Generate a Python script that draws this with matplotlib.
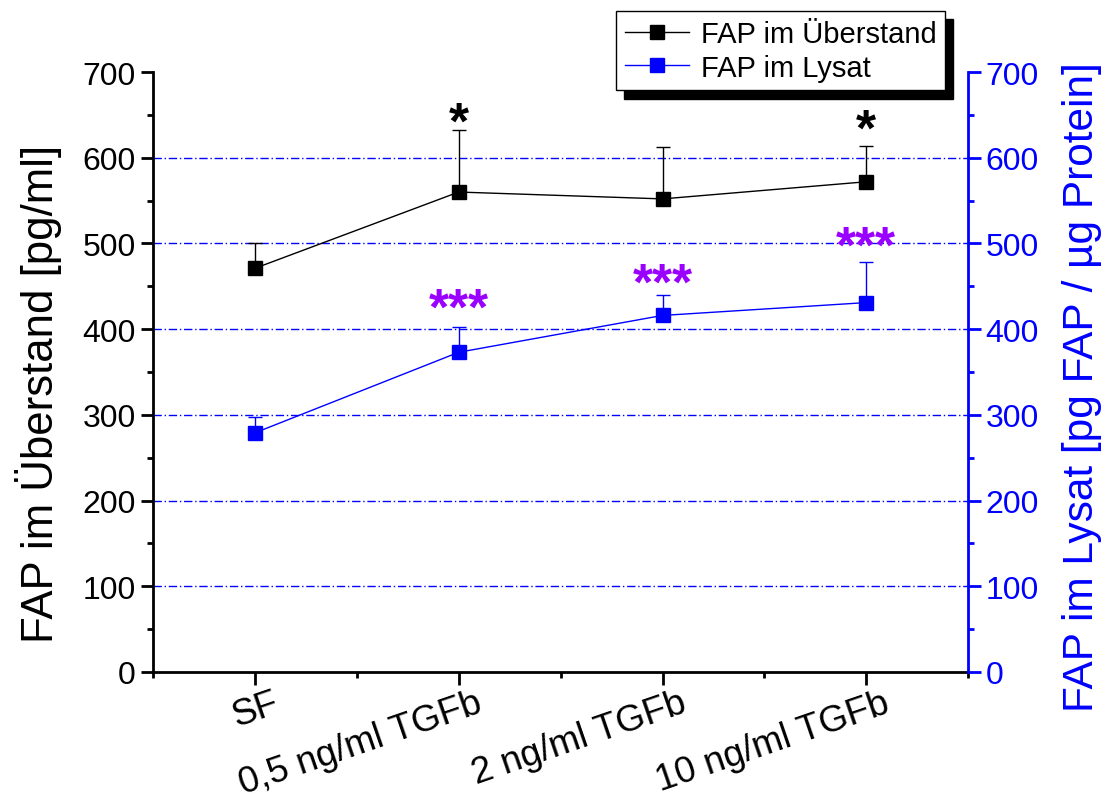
import matplotlib
matplotlib.use("Agg")
import matplotlib.pyplot as plt
from matplotlib.ticker import MultipleLocator

plt.rcParams['font.family'] = ['Liberation Sans', 'DejaVu Sans']

categories = ["SF", "0,5 ng/ml TGFb", "2 ng/ml TGFb", "10 ng/ml TGFb"]
ueberstand = [471, 560, 552, 572]
ueberstand_err = [29, 72, 60, 42]
lysat = [279, 373, 416, 431]
lysat_err = [19, 30, 24, 47]

# significance marks: (category index, baseline level, text)
stars_black = [(1, 623, "*"), (3, 615, "*")]
stars_purple = [(1, 407, "***"), (2, 436, "***"), (3, 479, "***")]
grid_levels = [100, 200, 300, 400, 500, 600]

BLUE = "#0000ff"
PURPLE = "#9900ff"

fig = plt.figure(figsize=(11.04, 8.03), dpi=100)
ax = fig.add_axes([0.1386, 0.162, 0.7384, 0.747])
ax2 = ax.twinx()

x = list(range(len(categories)))

for g in grid_levels:
    ax.axhline(g, color=BLUE, lw=1, ls=(0, (6, 2, 1, 2)), zorder=0)

l1, = ax.plot(x, ueberstand, color="black", lw=1, marker="s", ms=10,
              label="FAP im Überstand", zorder=3)
ax.errorbar(x, ueberstand, yerr=[[0] * 4, ueberstand_err], fmt="none",
            ecolor="black", elinewidth=1, capsize=5, capthick=1, zorder=3)
l2, = ax2.plot(x, lysat, color=BLUE, lw=1, marker="s", ms=10,
               label="FAP im Lysat", zorder=3)
ax2.errorbar(x, lysat, yerr=[[0] * 4, lysat_err], fmt="none",
             ecolor=BLUE, elinewidth=1, capsize=5, capthick=1, zorder=3)

for i, y, t in stars_black:
    ax.text(i, y, t, color="black", fontsize=37, fontweight="bold",
            ha="center", va="baseline")
for i, y, t in stars_purple:
    ax.text(i, y, t, color=PURPLE, fontsize=37, fontweight="bold",
            ha="center", va="baseline")

ax.set_xlim(-0.5, 3.5)
ax.set_ylim(0, 700)
ax2.set_ylim(0, 700)

# rotated category labels, anchored at their right end a bit right of the tick
ax.set_xticks(x)
ax.set_xticklabels([])
for i, name in zip(x, categories):
    ax.annotate(name, xy=(i, 0), xycoords=ax.get_xaxis_transform(),
                xytext=(16, -21.5), textcoords="offset points",
                rotation=19, rotation_mode="anchor", ha="right", va="center",
                fontsize=26.5, annotation_clip=False)

ax.xaxis.set_minor_locator(MultipleLocator(0.5))
ax.yaxis.set_major_locator(MultipleLocator(100))
ax.yaxis.set_minor_locator(MultipleLocator(50))
ax2.yaxis.set_major_locator(MultipleLocator(100))
ax2.yaxis.set_minor_locator(MultipleLocator(50))

for a in (ax, ax2):
    a.spines["top"].set_visible(False)
    for s in a.spines.values():
        s.set_linewidth(2)
ax.spines["right"].set_visible(False)
ax2.spines["left"].set_visible(False)
ax2.spines["bottom"].set_visible(False)
ax2.spines["right"].set_color(BLUE)

ax.tick_params(axis="both", which="major", length=9, width=2, direction="out")
ax.tick_params(axis="y", which="major", labelsize=23)
ax.tick_params(axis="both", which="minor", length=4.5, width=2, direction="out")
ax2.tick_params(axis="y", which="major", length=9, width=2, labelsize=23,
                colors=BLUE, direction="out")
ax2.tick_params(axis="y", which="minor", length=4.5, width=2, colors=BLUE, direction="out")

ax.set_ylabel("FAP im Überstand [pg/ml]", fontsize=31.5)
ax.yaxis.set_label_coords(-0.112, 0.465)
ax2.set_ylabel("FAP im Lysat [pg FAP / µg Protein]", fontsize=30.5, color=BLUE)
ax2.yaxis.set_label_coords(1.115, 0.477)

leg = ax.legend(handles=[l1, l2], loc="upper left", bbox_to_anchor=(0.558, 0.985),
                bbox_transform=fig.transFigure, fontsize=21, frameon=True,
                fancybox=False, framealpha=1, edgecolor="black",
                handlelength=2.2, borderpad=0.3, labelspacing=0.2,
                handletextpad=0.4, borderaxespad=0,
                shadow={"ox": 6, "oy": -6, "color": "black", "alpha": 1})
leg.get_frame().set_linewidth(1)
leg.set_zorder(10)

fig.savefig("out.png", dpi=100)
